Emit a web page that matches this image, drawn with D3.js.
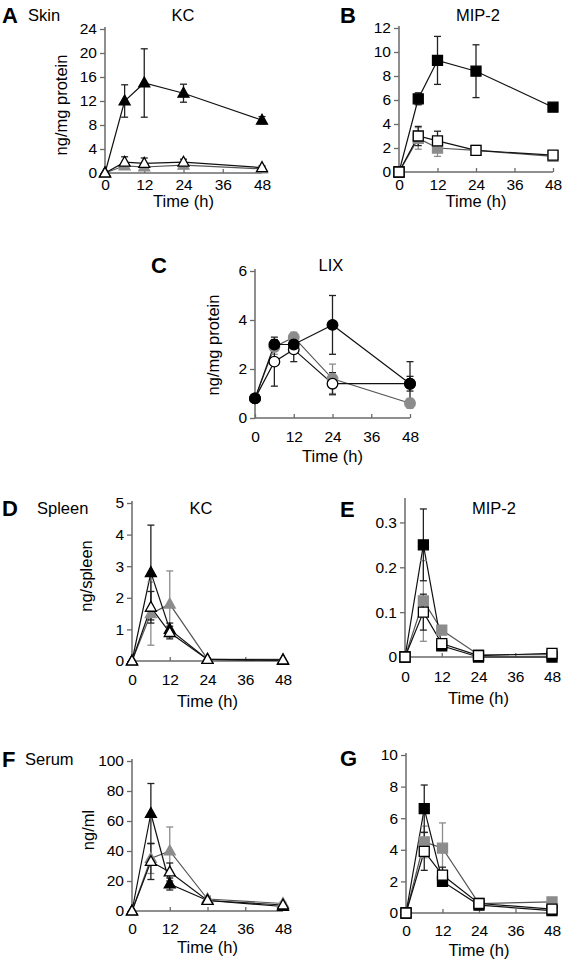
<!DOCTYPE html>
<html><head><meta charset="utf-8">
<script src="https://cdn.jsdelivr.net/npm/d3@7"></script>
<style>
body{margin:0;background:#fff}
svg{display:block}
text{font-family:"Liberation Sans",Arial,Helvetica,sans-serif;fill:#000}
</style>
</head><body>
<svg id="chart" width="564" height="965"></svg>
<script>
// ---------- data ----------
const times = [0, 6, 12, 24, 48];
const xTicks = [0, 12, 24, 36, 48];

// A: Skin KC (triangles)
const skinKcBlack = [0, 12.0, 15.0, 13.3, 8.8];
const skinKcBlackErr = [0, 2.7, 5.7, 1.5, 0.6];
const skinKcOpen = [0, 1.8, 1.6, 1.8, 0.9];
const skinKcOpenErr = [0, 0.9, 0.9, 0.5, 0.3];
const skinKcGray = [0, 1.2, 1.0, 1.3, 0.7];
const skinKcGrayErr = [0, 0.6, 0.5, 0.4, 0.2];
const skinKcTicks = [0, 4, 8, 12, 16, 20, 24];

// B: Skin MIP-2 (squares)
const skinMipBlack = [0, 6.1, 9.3, 8.4, 5.4];
const skinMipBlackErr = [0, 0.5, 2.0, 2.2, 0.2];
const skinMipOpen = [0, 3.0, 2.6, 1.8, 1.4];
const skinMipOpenErr = [0, 0.8, 0.8, 0.2, 0.2];
const skinMipGray = [0, 2.8, 2.0, 1.8, 1.3];
const skinMipGrayErr = [0, 0.9, 0.7, 0.2, 0.2];
const skinMipTicks = [0, 2, 4, 6, 8, 10, 12];

// C: Skin LIX (circles)
const lixBlack = [0.8, 3.0, 3.0, 3.8, 1.4];
const lixBlackErr = [0, 0.2, 0.2, 1.2, 0.9];
const lixOpen = [0.8, 2.3, 2.8, 1.4, 1.4];
const lixOpenErr = [0, 1.0, 0.5, 0.45, 0.3];
const lixGray = [0.8, 2.9, 3.3, 1.6, 0.6];
const lixGrayErr = [0, 0.3, 0.2, 0.6, 0.2];
const lixTicks = [0, 2, 4, 6];

// D: Spleen KC (triangles)
const spleenKcBlack = [0, 2.8, 1.0, 0.05, 0.02];
const spleenKcBlackErr = [0, 1.5, 0.2, 0.02, 0.01];
const spleenKcOpen = [0, 1.7, 0.9, 0.05, 0.03];
const spleenKcOpenErr = [0, 0.5, 0.2, 0.02, 0.01];
const spleenKcGray = [0, 1.5, 1.8, 0.06, 0.05];
const spleenKcGrayErr = [0, 1.0, 1.05, 0.02, 0.01];
const spleenKcTicks = [0, 1, 2, 3, 4, 5];

// E: Spleen MIP-2 (squares)
const spleenMipBlack = [0, 0.25, 0.025, 0.0, 0.0];
const spleenMipBlackErr = [0, 0.08, 0.01, 0, 0];
const spleenMipOpen = [0, 0.10, 0.03, 0.003, 0.008];
const spleenMipOpenErr = [0, 0.04, 0.01, 0.002, 0.003];
const spleenMipGray = [0, 0.125, 0.06, 0.005, 0.005];
const spleenMipGrayErr = [0, 0.09, 0.01, 0.002, 0.002];
const spleenMipTicks = [0, 0.1, 0.2, 0.3];

// F: Serum KC (triangles)
const serumKcBlack = [0, 65, 18, 7, 3];
const serumKcBlackErr = [0, 20, 4, 2, 1];
const serumKcOpen = [0, 33, 26, 7, 4];
const serumKcOpenErr = [0, 12, 6, 2, 1];
const serumKcGray = [0, 35, 40, 8, 5];
const serumKcGrayErr = [0, 10, 16, 2, 1];
const serumKcTicks = [0, 20, 40, 60, 80, 100];

// G: Serum MIP-2 (squares)
const serumMipBlack = [0, 6.6, 2.0, 0.5, 0.15];
const serumMipBlackErr = [0, 1.5, 0.3, 0.1, 0.05];
const serumMipOpen = [0, 3.9, 2.4, 0.6, 0.25];
const serumMipOpenErr = [0, 1.2, 0.5, 0.1, 0.05];
const serumMipGray = [0, 4.5, 4.1, 0.6, 0.7];
const serumMipGrayErr = [0, 1.0, 1.6, 0.1, 0.1];
const serumMipTicks = [0, 2, 4, 6, 8, 10];

// ---------- layout / style ----------
const GRAY = "#8c8c8c";
const AXIS = "#6a6a6a";
const TICK_FS = 15.5, LABEL_FS = 16.5, LETTER_FS = 22;

const panels = [
  {letter:"A", lx:2, ly:15, tissue:"Skin", tx:28, title:"KC", titleX:183, titleY:15,
   x0:105, x1:262, yTop:29, yBot:173, yMax:24, ticks:skinKcTicks, ylabel:"ng/mg protein", ylx:61, yly:105,
   tickY:185, timeY:201, shape:"tri",
   series:[[skinKcGray,skinKcGrayErr,"gray"],[skinKcBlack,skinKcBlackErr,"black"],[skinKcOpen,skinKcOpenErr,"open"]]},
  {letter:"B", lx:340, ly:15, title:"MIP-2", titleX:478, titleY:15,
   x0:399, x1:553, yTop:28, yBot:172, yMax:12, ticks:skinMipTicks,
   tickY:185, timeY:201, shape:"sq",
   series:[[skinMipGray,skinMipGrayErr,"gray"],[skinMipBlack,skinMipBlackErr,"black"],[skinMipOpen,skinMipOpenErr,"open"]]},
  {letter:"C", lx:151, ly:265, title:"LIX", titleX:331, titleY:265,
   x0:255, x1:410, yTop:271, yBot:418, yMax:6, ticks:lixTicks, ylabel:"ng/mg protein", ylx:213, yly:345,
   tickY:437, timeY:456, shape:"circ",
   series:[[lixGray,lixGrayErr,"gray"],[lixOpen,lixOpenErr,"open"],[lixBlack,lixBlackErr,"black"]]},
  {letter:"D", lx:2, ly:508, tissue:"Spleen", tx:37, title:"KC", titleX:201, titleY:508,
   x0:132, x1:283, yTop:503, yBot:661, yMax:5, ticks:spleenKcTicks, ylabel:"ng/spleen", ylx:86, yly:576,
   tickY:680, timeY:701, shape:"tri",
   series:[[spleenKcGray,spleenKcGrayErr,"gray"],[spleenKcBlack,spleenKcBlackErr,"black"],[spleenKcOpen,spleenKcOpenErr,"open"]]},
  {letter:"E", lx:340, ly:509, title:"MIP-2", titleX:494, titleY:508,
   x0:405, x1:552, yTop:500, yBot:657, yMax:0.35, ticks:spleenMipTicks,
   tickY:677, timeY:698, shape:"sq", fmt:d => d === 0 ? "0" : d3.format(".1f")(d),
   series:[[spleenMipGray,spleenMipGrayErr,"gray"],[spleenMipBlack,spleenMipBlackErr,"black"],[spleenMipOpen,spleenMipOpenErr,"open"]]},
  {letter:"F", lx:2, ly:759, tissue:"Serum", tx:25, title:"",
   x0:132, x1:283, yTop:761, yBot:911, yMax:100, ticks:serumKcTicks, ylabel:"ng/ml", ylx:88, yly:830,
   tickY:929, timeY:947, shape:"tri",
   series:[[serumKcGray,serumKcGrayErr,"gray"],[serumKcBlack,serumKcBlackErr,"black"],[serumKcOpen,serumKcOpenErr,"open"]]},
  {letter:"G", lx:340, ly:758, title:"",
   x0:406, x1:552, yTop:755, yBot:913, yMax:10, ticks:serumMipTicks,
   tickY:931, timeY:950, shape:"sq",
   series:[[serumMipGray,serumMipGrayErr,"gray"],[serumMipBlack,serumMipBlackErr,"black"],[serumMipOpen,serumMipOpenErr,"open"]]}
];

const svg = d3.select("#chart");

function shapePath(shape, cx, cy) {
  if (shape === "tri") {
    const s = 11, h = s * 0.9;
    return `M${cx},${cy - h*0.6}L${cx + s/2},${cy + h*0.4}L${cx - s/2},${cy + h*0.4}Z`;
  }
  if (shape === "sq") {
    const s = 10;
    return `M${cx - s/2},${cy - s/2}h${s}v${s}h${-s}Z`;
  }
  const r = 5.3;
  return `M${cx - r},${cy}a${r},${r} 0 1,0 ${2*r},0a${r},${r} 0 1,0 ${-2*r},0Z`;
}

panels.forEach(p => {
  const g = svg.append("g");
  const x = d3.scaleLinear().domain([0, 48]).range([p.x0, p.x1]);
  const y = d3.scaleLinear().domain([0, p.yMax]).range([p.yBot, p.yTop]);

  // y axis
  const yAxis = d3.axisLeft(y).tickValues(p.ticks).tickSize(5).tickSizeOuter(0)
    .tickFormat(p.fmt || (d => d));
  const ya = g.append("g").attr("transform", `translate(${p.x0},0)`).call(yAxis);
  ya.select(".domain").attr("stroke", AXIS).attr("stroke-width", 1.5)
    .attr("d", `M0,${p.yTop - 2}V${p.yBot}`);
  ya.selectAll(".tick line").attr("stroke", AXIS).attr("stroke-width", 1.3);
  ya.selectAll(".tick text").attr("font-size", TICK_FS).attr("fill", "#111")
    .attr("font-family", '"Liberation Sans",Arial,sans-serif').attr("x", -8);

  // x axis (ticks pointing up)
  const xAxis = d3.axisBottom(x).tickValues(xTicks).tickSize(-4).tickSizeOuter(0).tickFormat(d => d);
  const xa = g.append("g").attr("transform", `translate(0,${p.yBot})`).call(xAxis);
  xa.select(".domain").attr("stroke", AXIS).attr("stroke-width", 1.5)
    .attr("d", `M${p.x0},0H${p.x1}`);
  xa.selectAll(".tick line").attr("stroke", AXIS).attr("stroke-width", 1.3);
  xa.selectAll(".tick text").attr("font-size", TICK_FS).attr("fill", "#111")
    .attr("font-family", '"Liberation Sans",Arial,sans-serif')
    .attr("y", p.tickY - p.yBot).attr("dy", "0.35em");

  // texts
  g.append("text").attr("x", (p.x0 + p.x1) / 2).attr("y", p.timeY).attr("dy", "0.35em")
    .attr("text-anchor", "middle").attr("font-size", LABEL_FS).text("Time (h)");
  g.append("text").attr("x", p.lx).attr("y", p.ly).attr("dy", "0.36em")
    .attr("font-size", LETTER_FS).attr("font-weight", "bold").text(p.letter);
  if (p.tissue) g.append("text").attr("x", p.tx).attr("y", p.ly).attr("dy", "0.35em")
    .attr("font-size", LABEL_FS).text(p.tissue);
  if (p.title) g.append("text").attr("x", p.titleX).attr("y", p.titleY).attr("dy", "0.35em")
    .attr("text-anchor", "middle").attr("font-size", LABEL_FS).text(p.title);
  if (p.ylabel) g.append("text").attr("transform", `translate(${p.ylx},${p.yly}) rotate(-90)`)
    .attr("dy", "0.35em").attr("text-anchor", "middle").attr("font-size", LABEL_FS).text(p.ylabel);

  const fillOf = k => k === "gray" ? GRAY : (k === "black" ? "#000" : "#fff");
  const line = d3.line().x((d, i) => x(times[i])).y(d => y(d));

  // lines
  p.series.forEach(([vals, errs, kind]) => {
    g.append("path").datum(vals).attr("d", line).attr("fill", "none")
      .attr("stroke", kind === "gray" ? "#555" : "#111").attr("stroke-width", 1.2);
  });
  // error bars
  p.series.forEach(([vals, errs, kind]) => {
    const eg = g.append("g").attr("stroke", kind === "gray" ? GRAY : "#222").attr("stroke-width", 1.3);
    vals.forEach((v, i) => {
      const e = errs[i];
      if (!e) return;
      const cx = x(times[i]);
      const top = y(v + e), bot = y(Math.max(0, v - e));
      eg.append("line").attr("x1", cx).attr("x2", cx).attr("y1", top).attr("y2", bot);
      eg.append("line").attr("x1", cx - 3.5).attr("x2", cx + 3.5).attr("y1", top).attr("y2", top);
      eg.append("line").attr("x1", cx - 3.5).attr("x2", cx + 3.5).attr("y1", bot).attr("y2", bot);
    });
  });
  // markers
  p.series.forEach(([vals, errs, kind]) => {
    g.append("g").selectAll("path").data(vals).join("path")
      .attr("d", (d, i) => shapePath(p.shape, x(times[i]), y(d)))
      .attr("fill", fillOf(kind))
      .attr("stroke", kind === "gray" ? GRAY : "#000")
      .attr("stroke-width", 1.3);
  });
});
</script>
</body></html>
